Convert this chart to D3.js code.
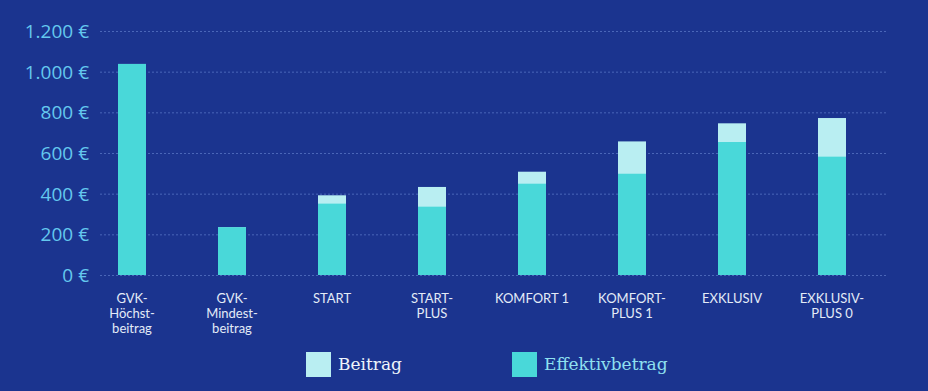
<html>
<head>
<meta charset="utf-8">
<title>Beitrag vs Effektivbetrag</title>
<script src="https://cdn.jsdelivr.net/npm/d3@7/dist/d3.min.js"></script>
<style>
body { margin: 0; background: #1b348f; }
.grid line { stroke: #4a66b8; stroke-dasharray: 2,2; stroke-width: 1px; }
.yaxis text { fill: #64c8ee; font-family: "Open Sans", sans-serif; font-size: 19px; }
.xaxis text { fill: #e3ebf7; font-family: Lato, sans-serif; font-size: 13px; }
.legend text { font-family: "DejaVu Serif", serif; font-size: 17px; }
</style>
</head>
<body>
<script>
// data
var categories = ["GVK-|Höchst-|beitrag", "GVK-|Mindest-|beitrag", "START", "START-|PLUS", "KOMFORT 1", "KOMFORT-|PLUS 1", "EXKLUSIV", "EXKLUSIV-|PLUS 0"];
var beitrag = [1038, 235, 392, 433, 508, 657, 746, 772];
var effektiv = [1038, 235, 351, 336, 449, 498, 654, 582];
var yTicks = [0, 200, 400, 600, 800, 1000, 1200];
var seriesNames = ["Beitrag", "Effektivbetrag"];
var colors = ["#b9eef2", "#49d8d9"];

var width = 928, height = 391;
var margin = {left: 100, right: 42, top: 31, bottom: 116};

var svg = d3.select("body").append("svg")
  .attr("width", width).attr("height", height)
  .style("background", "#1b348f");

var x = d3.scaleBand()
  .domain(d3.range(categories.length))
  .range([82, 882])
  .paddingInner(0.72).paddingOuter(0.36);

var y = d3.scaleLinear()
  .domain([0, 1200])
  .range([height - margin.bottom, margin.top]);

var de = d3.formatLocale({decimal: ",", thousands: ".", grouping: [3], currency: ["", " €"]});
var fmt = de.format(",.0f");

// grid
svg.append("g").attr("class", "grid")
  .selectAll("line").data(yTicks).enter().append("line")
  .attr("x1", margin.left).attr("x2", 886)
  .attr("y1", function(d){ return y(d) + 0.5; })
  .attr("y2", function(d){ return y(d) + 0.5; });

// y axis labels
svg.append("g").attr("class", "yaxis")
  .selectAll("text").data(yTicks).enter().append("text")
  .attr("x", 89)
  .attr("y", function(d){ return y(d); })
  .attr("dy", "0.36em")
  .attr("text-anchor", "end")
  .text(function(d){ return fmt(d) + " €"; });

// bars: beitrag behind, effektiv on top
var bars = svg.append("g");
bars.selectAll(".b").data(beitrag).enter().append("rect")
  .attr("x", function(d, i){ return x(i); })
  .attr("width", x.bandwidth())
  .attr("y", function(d){ return y(d); })
  .attr("height", function(d){ return y(0) - y(d); })
  .attr("fill", colors[0]);
bars.selectAll(".e").data(effektiv).enter().append("rect")
  .attr("x", function(d, i){ return x(i); })
  .attr("width", x.bandwidth())
  .attr("y", function(d){ return y(d); })
  .attr("height", function(d){ return y(0) - y(d); })
  .attr("fill", colors[1]);

// x labels
var xl = svg.append("g").attr("class", "xaxis")
  .selectAll("text").data(categories).enter().append("text")
  .attr("text-anchor", "middle")
  .attr("x", function(d, i){ return x(i) + x.bandwidth() / 2; })
  .attr("y", 303);
xl.each(function(d){
  var t = d3.select(this);
  d.split("|").forEach(function(line, k){
    t.append("tspan")
      .attr("x", t.attr("x"))
      .attr("dy", k == 0 ? 0 : 15)
      .text(line);
  });
});

// legend
var lg = svg.append("g").attr("class", "legend");
var lx = [306, 512];
seriesNames.forEach(function(name, i){
  lg.append("rect").attr("x", lx[i]).attr("y", 352).attr("width", 25).attr("height", 25).attr("fill", colors[i]);
  lg.append("text").attr("x", lx[i] + 32).attr("y", 370)
    .attr("fill", i == 0 ? "#eef4fb" : "#8fe0f0")
    .text(name);
});
</script>
</body>
</html>
